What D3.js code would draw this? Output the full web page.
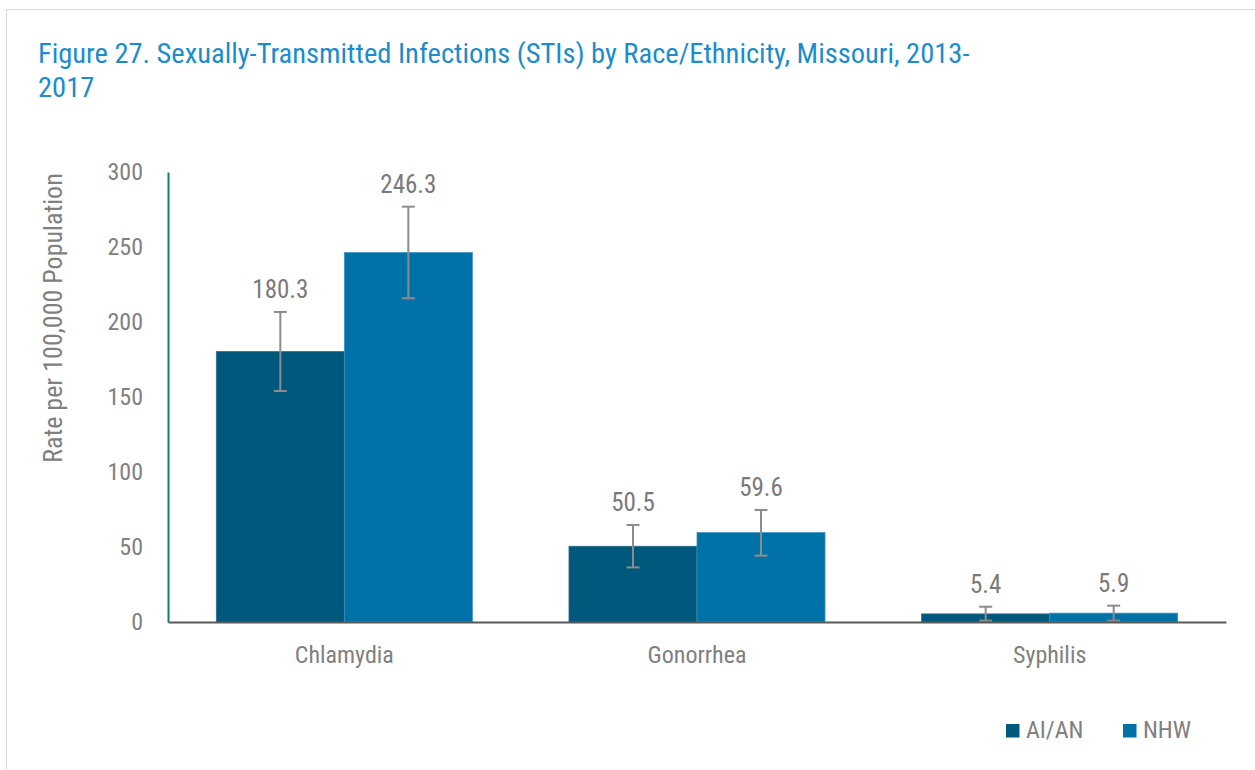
<!DOCTYPE html>
<html>
<head>
<meta charset="utf-8">
<script src="https://cdn.jsdelivr.net/npm/d3@7"></script>
<style>
  body { margin: 0; background: #fff; }
  svg text { font-family: "Roboto Condensed", "Liberation Sans Narrow", "Arial Narrow", sans-serif; }
</style>
</head>
<body>
<div id="chart"></div>
<script>
// data
const categories = ["Chlamydia", "Gonorrhea", "Syphilis"];
const groups = ["AI/AN", "NHW"];
const aianRates = [180.3, 50.5, 5.4];
const nhwRates = [246.3, 59.6, 5.9];
const aianLow = [154.0, 36.4, 0.9];
const aianHigh = [206.7, 64.7, 10.2];
const nhwLow = [215.8, 44.2, 0.9];
const nhwHigh = [276.9, 74.7, 10.9];
const yTicks = [0, 50, 100, 150, 200, 250, 300];

const width = 1255, height = 770;
const margin = { left: 168, right: 29, top: 172, bottom: 148 };
const colors = { "AI/AN": "#00587c", "NHW": "#0072a7" };
const grey = "#808080";

const svg = d3.select("#chart").append("svg")
    .attr("width", width)
    .attr("height", height);

// outer frame
svg.append("rect")
    .attr("x", 6.5).attr("y", 9.5)
    .attr("width", width).attr("height", height)
    .attr("fill", "none")
    .attr("stroke", "#d9d9d9");

// title
const title = svg.append("text")
    .attr("x", 38)
    .attr("y", 63)
    .attr("fill", "#1b8dcc")
    .style("font-size", "28.5px");
title.append("tspan").attr("x", 38).text("Figure 27. Sexually-Transmitted Infections (STIs) by Race/Ethnicity, Missouri, 2013-");
title.append("tspan").attr("x", 38).attr("dy", 33.5).text("2017");

const plotW = width - margin.left - margin.right;
const plotH = height - margin.top - margin.bottom;

const x0 = d3.scaleBand()
    .domain(categories)
    .range([margin.left, margin.left + plotW])
    .paddingInner(0.274)
    .paddingOuter(0.137);

const x1 = d3.scaleBand()
    .domain(groups)
    .range([0, x0.bandwidth()]);

const y = d3.scaleLinear()
    .domain([0, 300])
    .range([margin.top + plotH, margin.top]);

const rows = categories.map((c, i) => ({
    category: c,
    values: [
        { group: "AI/AN", v: aianRates[i], lo: aianLow[i], hi: aianHigh[i] },
        { group: "NHW", v: nhwRates[i], lo: nhwLow[i], hi: nhwHigh[i] }
    ]
}));

// y axis
const yAxis = svg.append("g")
    .attr("transform", `translate(${margin.left},0)`)
    .call(d3.axisLeft(y).tickValues(yTicks).tickSize(0).tickPadding(25));
yAxis.select(".domain").attr("stroke", "#1a7a6c").attr("stroke-width", 2);
yAxis.selectAll("text")
    .attr("fill", grey)
    .style("font-size", "24px");

svg.append("text")
    .attr("transform", "translate(62,318) rotate(-90)")
    .attr("text-anchor", "middle")
    .attr("fill", grey)
    .style("font-size", "26px")
    .text("Rate per 100,000 Population");

// bars
const groupSel = svg.selectAll(".cat")
    .data(rows)
    .enter().append("g")
    .attr("class", "cat")
    .attr("transform", d => `translate(${x0(d.category)},0)`);

groupSel.selectAll("rect")
    .data(d => d.values)
    .enter().append("rect")
    .attr("x", d => x1(d.group))
    .attr("y", d => y(d.v))
    .attr("width", x1.bandwidth())
    .attr("height", d => y(0) - y(d.v))
    .attr("fill", d => colors[d.group])
    .attr("stroke", d => d.group === "NHW" ? "#3e93c0" : "#2a6f8f")
    .attr("stroke-width", 0.8);

// error bars
const err = groupSel.selectAll(".err")
    .data(d => d.values)
    .enter().append("g")
    .attr("class", "err")
    .attr("stroke", "#8c8c8c")
    .attr("stroke-width", 2);

err.append("line")
    .attr("x1", d => x1(d.group) + x1.bandwidth() / 2)
    .attr("x2", d => x1(d.group) + x1.bandwidth() / 2)
    .attr("y1", d => y(d.lo))
    .attr("y2", d => y(d.hi));
err.append("line")
    .attr("x1", d => x1(d.group) + x1.bandwidth() / 2 - 6.5)
    .attr("x2", d => x1(d.group) + x1.bandwidth() / 2 + 6.5)
    .attr("y1", d => y(d.hi))
    .attr("y2", d => y(d.hi));
err.append("line")
    .attr("x1", d => x1(d.group) + x1.bandwidth() / 2 - 6.5)
    .attr("x2", d => x1(d.group) + x1.bandwidth() / 2 + 6.5)
    .attr("y1", d => y(d.lo))
    .attr("y2", d => y(d.lo));

// value labels
groupSel.selectAll(".val")
    .data(d => d.values)
    .enter().append("text")
    .attr("class", "val")
    .attr("x", d => x1(d.group) + x1.bandwidth() / 2)
    .attr("y", d => y(d.hi) - 14)
    .attr("text-anchor", "middle")
    .attr("fill", "#7a7a7a")
    .style("font-size", "25px")
    .text(d => d.v.toFixed(1));

// x axis
const xAxis = svg.append("g")
    .attr("transform", `translate(0,${y(0)})`)
    .call(d3.axisBottom(x0).tickSize(0).tickPadding(24));
xAxis.select(".domain").attr("stroke", "#595959").attr("stroke-width", 2);
xAxis.selectAll("text")
    .attr("fill", grey)
    .style("font-size", "24px");

// legend
const legend = svg.append("g").attr("transform", "translate(1006,724)");
const legItems = legend.selectAll("g")
    .data(groups)
    .enter().append("g")
    .attr("transform", (d, i) => `translate(${i * 117},0)`);
legItems.append("rect")
    .attr("width", 13.5).attr("height", 13.5)
    .attr("fill", d => colors[d]);
legItems.append("text")
    .attr("x", 20)
    .attr("y", 14)
    .attr("fill", grey)
    .style("font-size", "24px")
    .text(d => d);
</script>
</body>
</html>
